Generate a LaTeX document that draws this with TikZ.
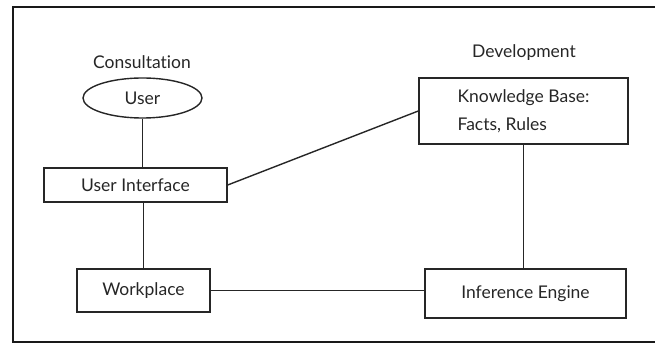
\documentclass[tikz,border=0pt]{standalone}
\usepackage{fontspec}
\setmainfont{Lato}[Ligatures={NoCommon}]
\usetikzlibrary{shapes.geometric}
\begin{document}
\begin{tikzpicture}[x=1pt,y=-1pt,
  every node/.style={font=\fontsize{17.5}{28}\selectfont, text=black!85},
  box/.style={draw=black!85, line width=1.4pt, rectangle, inner sep=0pt},
  oval/.style={draw=black!85, line width=1.4pt, ellipse, inner sep=0pt},
  link/.style={draw=black!85, line width=1.4pt},
  lbl/.style={inner sep=0pt}]
\useasboundingbox (0,0) rectangle (655,352);
\begin{scope}
\clip (0,0) rectangle (655,352);
\draw[line width=2.6pt, black!90] (13,7) rectangle (670,342);
\end{scope}
\node[lbl] (consult) at (142,62) {Consultation};
\node[lbl] (dev) at (524,53) {Development};
\node[oval, minimum width=119pt, minimum height=40pt] (user) at (142.5,98) {User};
\node[box, minimum width=183pt, minimum height=34pt] (ui) at (135.5,185) {User Interface};
\node[box, minimum width=133pt, minimum height=43pt] (wp) at (143.5,290.5) {Workplace};
\node[box, minimum width=209pt, minimum height=66pt, align=left] (kb) at (523.5,111) {Knowledge Base:\\Facts, Rules};
\node[box, minimum width=201pt, minimum height=49pt] (ie) at (525.5,293.5) {Inference Engine};
\draw[link] (user.south) -- (user.south |- ui.north);
\draw[link] (ui.south -| wp.north) -- (wp.north);
\draw[link] (wp.east) -- (wp.east -| ie.west);
\draw[link] (kb.south) -- (kb.south |- ie.north);
\draw[link] (ui.east) -- (kb.west);
\end{tikzpicture}
\end{document}
